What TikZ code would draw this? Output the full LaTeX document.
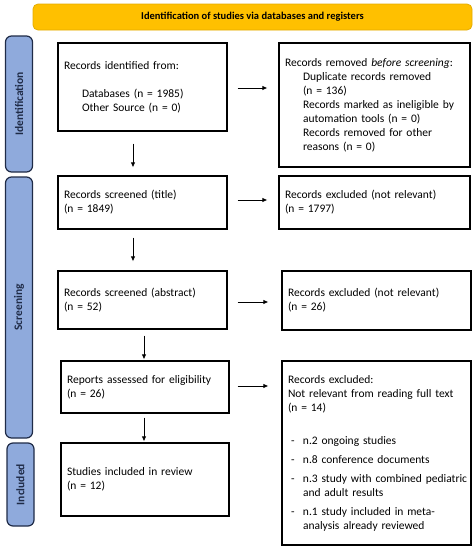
\documentclass[tikz,border=0pt]{standalone}
\usepackage{fontspec}
\setmainfont{Carlito}
\usepackage{xcolor}
\usetikzlibrary{arrows.meta,positioning,calc}

\definecolor{bannerfill}{HTML}{FFC000}
\definecolor{bannerline}{HTML}{E3AC00}
\definecolor{barfill}{HTML}{8FAADC}
\definecolor{barline}{HTML}{1F2B47}

\tikzset{
    banner/.style={draw=bannerline, fill=bannerfill, rounded corners=5pt, line width=0.8pt,
        font=\fontsize{10.5}{12}\selectfont\bfseries},
    phasebar/.style={draw=barline, fill=barfill, rounded corners=6pt, line width=1.2pt,
        rotate=90, minimum height=27pt, inner sep=0pt,
        font=\fontsize{11.5}{13}\selectfont\bfseries, text=barline},
    stagebox/.style={draw, rectangle, line width=1.3pt, align=left, inner xsep=6pt, inner ysep=3pt,
        font=\fontsize{11.5}{14}\selectfont},
    flow/.style={line width=0.8pt, -{Latex[length=5pt,width=4.5pt]}}
}

\begin{document}
\begin{tikzpicture}[x=1pt, y=-1pt]
    \useasboundingbox (0,0) rectangle (476,550);

    % Header
    \node[banner, minimum width=439pt, minimum height=26pt] (header) at (252.5,17) {Identification of studies via databases and registers};

    % Phase bars
    \node[phasebar, minimum width=136pt] (bar_ident) at (19,104) {Identification};
    \node[phasebar, minimum width=261pt] (bar_screen) at (19,307.5) {Screening};
    \node[phasebar, minimum width=83pt] (bar_incl) at (20.5,484.5) {Included};

    % Identification
    \node[stagebox, minimum width=169pt, minimum height=88pt, text width=157pt] (identified) at (142.5,87) {
        Records identified from:\\[14pt]
        \hspace*{18pt}Databases (n = 1985)\\
        \hspace*{18pt}Other Source (n = 0)
    };
    \node[stagebox, minimum width=191pt, minimum height=124pt, text width=179pt] (removed) at (374.5,105) {
        Records removed \emph{before screening}:\\
        \hspace*{18pt}Duplicate records removed\\
        \hspace*{18pt}(n = 136)\\
        \hspace*{18pt}Records marked as ineligible by\\
        \hspace*{18pt}automation tools (n = 0)\\
        \hspace*{18pt}Records removed for other\\
        \hspace*{18pt}reasons (n = 0)
    };

    % Screening
    \node[stagebox, minimum width=169pt, minimum height=53pt, text width=157pt] (title) at (142.5,202.5) {
        Records screened (title)\\
        (n = 1849)
    };
    \node[stagebox, minimum width=191pt, minimum height=53pt, text width=179pt] (excl_title) at (374.5,202.5) {
        Records excluded (not relevant)\\
        (n = 1797)
    };
    \node[stagebox, minimum width=169pt, minimum height=58pt, text width=157pt] (abstract) at (142.5,300) {
        Records screened (abstract)\\
        (n = 52)
    };
    \node[stagebox, minimum width=189pt, minimum height=59pt, text width=177pt] (excl_abstract) at (376.5,300.5) {
        Records excluded (not relevant)\\
        (n = 26)
    };
    \node[stagebox, minimum width=168pt, minimum height=52pt, text width=156pt] (eligibility) at (145,387) {
        Reports assessed for eligibility\\
        (n = 26)
    };
    \node[stagebox, minimum width=189pt, minimum height=184pt, text width=177pt] (excl_full) at (376.5,453) {
        Records excluded:\\
        Not relevant from reading full text\\
        (n = 14)\\[19pt]
        \hspace*{3pt}\makebox[12pt][l]{-}n.2 ongoing studies\\[5pt]
        \hspace*{3pt}\makebox[12pt][l]{-}n.8 conference documents\\[5pt]
        \hspace*{3pt}\makebox[12pt][l]{-}\mbox{n.3 study with combined pediatric}\\
        \hspace*{15pt}and adult results\\[5pt]
        \hspace*{3pt}\makebox[12pt][l]{-}n.1 study included in meta-\\
        \hspace*{15pt}analysis already reviewed
    };

    % Included
    \node[stagebox, minimum width=168pt, minimum height=73pt, text width=156pt] (included) at (145,479.5) {
        Studies included in review\\
        (n = 12)
    };

    % Arrows
    \draw[flow, shorten <=10pt, shorten >=11pt] (identified.east |- 0,88) -- (removed.west |- 0,88);
    \draw[flow, shorten <=10pt, shorten >=11pt] (title.east |- 0,200) -- (excl_title.west |- 0,200);
    \draw[flow, shorten <=10pt, shorten >=13pt] (abstract.east |- 0,302) -- (excl_abstract.west |- 0,302);
    \draw[flow, shorten <=8pt, shorten >=13pt] (eligibility.east |- 0,386) -- (excl_full.west |- 0,386);
    \draw[flow, shorten <=12pt, shorten >=8pt] (identified.south -| 133,0) -- (title.north -| 133,0);
    \draw[flow, shorten <=8pt, shorten >=9pt] (title.south -| 133,0) -- (abstract.north -| 133,0);
    \draw[flow, shorten <=6pt, shorten >=1pt] (abstract.south -| 144,0) -- (eligibility.north -| 144,0);
    \draw[flow, shorten <=4pt, shorten >=1pt] (eligibility.south -| 144,0) -- (included.north -| 144,0);
\end{tikzpicture}
\end{document}
